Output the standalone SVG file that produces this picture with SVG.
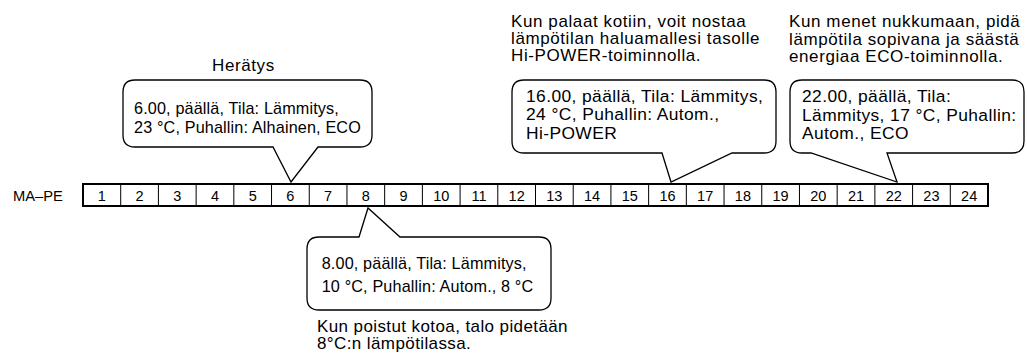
<svg xmlns="http://www.w3.org/2000/svg" width="1027" height="356" viewBox="0 0 1027 356">
<style>
text{font-family:"Liberation Sans",Arial,sans-serif;fill:#000}
.h{font-size:17px;letter-spacing:0.6px}
.cs{font-size:16.2px;letter-spacing:0.15px}
.cl{font-size:17.4px;letter-spacing:0.4px}
.n{font-size:14.5px;text-anchor:middle}
.bub{fill:#fff;stroke:#000;stroke-width:1.3;stroke-linejoin:miter}
.div{stroke:#000;stroke-width:1}
</style>
<rect width="1027" height="356" fill="#fff"/>
<g id="timeline">
<text x="13" y="200.5" style="font-size:14.7px">MA–PE</text>
<rect x="83" y="184" width="905" height="22" fill="#fff" stroke="#000" stroke-width="2"/>
<g class="div">
<line x1="120.71" y1="184" x2="120.71" y2="206"/><line x1="158.42" y1="184" x2="158.42" y2="206"/><line x1="196.13" y1="184" x2="196.13" y2="206"/><line x1="233.83" y1="184" x2="233.83" y2="206"/><line x1="271.54" y1="184" x2="271.54" y2="206"/><line x1="309.25" y1="184" x2="309.25" y2="206"/><line x1="346.96" y1="184" x2="346.96" y2="206"/><line x1="384.67" y1="184" x2="384.67" y2="206"/><line x1="422.38" y1="184" x2="422.38" y2="206"/><line x1="460.08" y1="184" x2="460.08" y2="206"/><line x1="497.79" y1="184" x2="497.79" y2="206"/><line x1="535.5" y1="184" x2="535.5" y2="206"/><line x1="573.21" y1="184" x2="573.21" y2="206"/><line x1="610.92" y1="184" x2="610.92" y2="206"/><line x1="648.63" y1="184" x2="648.63" y2="206"/><line x1="686.33" y1="184" x2="686.33" y2="206"/><line x1="724.04" y1="184" x2="724.04" y2="206"/><line x1="761.75" y1="184" x2="761.75" y2="206"/><line x1="799.46" y1="184" x2="799.46" y2="206"/><line x1="837.17" y1="184" x2="837.17" y2="206"/><line x1="874.88" y1="184" x2="874.88" y2="206"/><line x1="912.58" y1="184" x2="912.58" y2="206"/><line x1="950.29" y1="184" x2="950.29" y2="206"/>
</g>
<g>
<text class="n" x="101.85" y="200.5">1</text><text class="n" x="139.56" y="200.5">2</text><text class="n" x="177.27" y="200.5">3</text><text class="n" x="214.98" y="200.5">4</text><text class="n" x="252.69" y="200.5">5</text><text class="n" x="290.4" y="200.5">6</text><text class="n" x="328.1" y="200.5">7</text><text class="n" x="365.81" y="200.5">8</text><text class="n" x="403.52" y="200.5">9</text><text class="n" x="441.23" y="200.5">10</text><text class="n" x="478.94" y="200.5">11</text><text class="n" x="516.65" y="200.5">12</text><text class="n" x="554.35" y="200.5">13</text><text class="n" x="592.06" y="200.5">14</text><text class="n" x="629.77" y="200.5">15</text><text class="n" x="667.48" y="200.5">16</text><text class="n" x="705.19" y="200.5">17</text><text class="n" x="742.9" y="200.5">18</text><text class="n" x="780.6" y="200.5">19</text><text class="n" x="818.31" y="200.5">20</text><text class="n" x="856.02" y="200.5">21</text><text class="n" x="893.73" y="200.5">22</text><text class="n" x="931.44" y="200.5">23</text><text class="n" x="969.15" y="200.5">24</text>
</g>
</g>
<g id="connectors">
<path class="bub" d="M135 80 H360 Q372 80 372 92 V135 Q372 147 360 147 H318 L291 182 L273 147 H135 Q123 147 123 135 V92 Q123 80 135 80 Z"/>
<path class="bub" d="M524 80 H764 Q776 80 776 92 V141 Q776 153 764 153 H732 L671 182 L662 153 H524 Q512 153 512 141 V92 Q512 80 524 80 Z"/>
<path class="bub" d="M802 80 H1012 Q1024 80 1024 92 V141 Q1024 153 1012 153 H887 L897 182 L811 153 H802 Q790 153 790 141 V92 Q790 80 802 80 Z"/>
<path class="bub" d="M319 237 H359 L368 208 L400 237 H539 Q551 237 551 249 V298 Q551 310 539 310 H319 Q307 310 307 298 V249 Q307 237 319 237 Z"/>
</g>
<g id="node-6">
<text class="h" x="212" y="71">Herätys</text>
<text class="cs" x="134" y="114">6.00, päällä, Tila: Lämmitys,</text>
<text class="cs" x="134" y="132.7">23 °C, Puhallin: Alhainen, ECO</text>
</g>
<g id="node-16">
<text class="h" x="511" y="27">Kun palaat kotiin, voit nostaa</text>
<text class="h" x="511" y="44">lämpötilan haluamallesi tasolle</text>
<text class="h" x="511" y="61">Hi-POWER-toiminnolla.</text>
<text class="cl" x="526" y="101.5">16.00, päällä, Tila: Lämmitys,</text>
<text class="cl" x="526" y="120">24 °C, Puhallin: Autom.,</text>
<text class="cl" x="526" y="138.5">Hi-POWER</text>
</g>
<g id="node-22">
<text class="h" x="789" y="27">Kun menet nukkumaan, pidä</text>
<text class="h" x="789" y="44.5">lämpötila sopivana ja säästä</text>
<text class="h" x="789" y="62">energiaa ECO-toiminnolla.</text>
<text class="cl" x="802" y="101.7">22.00, päällä, Tila:</text>
<text class="cl" x="802" y="120.7">Lämmitys, 17 °C, Puhallin:</text>
<text class="cl" x="802" y="139.3">Autom., ECO</text>
</g>
<g id="node-8">
<text class="cs" x="321.7" y="269">8.00, päällä, Tila: Lämmitys,</text>
<text class="cs" x="321.7" y="291.7">10 °C, Puhallin: Autom., 8 °C</text>
<text class="h" x="317" y="332" style="letter-spacing:0.4px">Kun poistut kotoa, talo pidetään</text>
<text class="h" x="317" y="349" style="letter-spacing:0.4px">8°C:n lämpötilassa.</text>
</g>
</svg>
